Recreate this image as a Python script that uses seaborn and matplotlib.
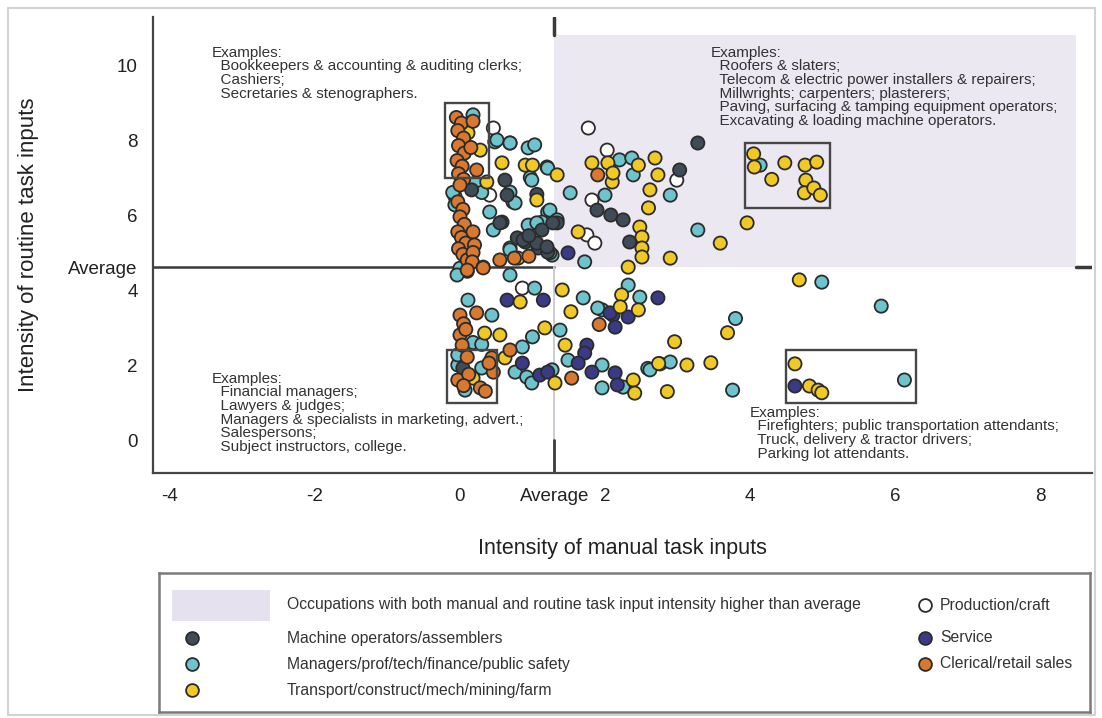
import matplotlib
matplotlib.use("Agg")
import matplotlib.pyplot as plt
from matplotlib.patches import Rectangle
import numpy as np
import pandas as pd
import seaborn as sns

# ---------------------------------------------------------------------------
# Occupation groups
# ---------------------------------------------------------------------------
groups = [
    "Production/craft",
    "Machine operators/assemblers",
    "Managers/prof/tech/finance/public safety",
    "Transport/construct/mech/mining/farm",
    "Service",
    "Clerical/retail sales",
]
group_colors = ["#FFFFFF", "#3F4C57", "#6EC4CC", "#F1C925", "#3B3A86", "#D8792F"]

# Manual (x) and routine (y) task-input intensity, one pair of lists per group
prod_manual = [0.46, 0.69, 1.77, 2.03, 1.82, 1.75, 1.86, 0.41, -0.07, 2.99, 0.86]
prod_routine = [8.32, 7.92, 8.32, 7.73, 6.40, 5.47, 5.25, 6.53, 6.50, 6.93, 4.05]

mach_manual = [0.62, 0.65, 1.06, 0.58, 1.34, 0.79, 0.90, 1.08, 1.21, 1.89, 2.08,
               2.25, 2.34, 3.03, 3.28, 0.04, 0.55, 0.87, 1.13, 1.28, 1.06, 1.20,
               0.16, 0.95]
mach_routine = [6.93, 6.53, 6.55, 5.81, 5.79, 5.39, 5.28, 5.12, 5.01, 6.13, 6.00,
                5.87, 5.28, 7.20, 7.92, 1.92, 5.79, 5.33, 5.60, 5.79, 5.25, 5.15,
                6.67, 5.45]

mgr_manual = [0.18, 0.48, 0.94, 1.03, 1.20, 0.97, 0.21, 0.30, 0.73, 1.52, 2.00,
              0.41, 0.46, 1.21, 1.27, 1.13, 1.00, 1.00, 0.97, 0.69, 1.27, 1.72,
              0.00, 0.10, -0.10, -0.07, 2.20, 2.37, 2.39, 2.90, 3.28, 4.14, 4.99,
              5.81, 3.80, 2.76, 2.59, 3.76, 6.13, 2.32, 2.48, 1.96, 1.96, 2.25,
              1.96, 2.62, 2.90, -0.04, 0.69, 1.03, 0.11, 0.44, 0.18, 0.30, -0.03,
              0.86, 1.00, 1.38, 1.49, 0.76, 0.92, 0.99, 1.27, 1.70, 1.90, -0.03,
              0.07, 0.30, 0.51, 0.69, 0.99, 1.21, 0.69, 0.76, 1.24, 0.94, 1.06,
              1.34, 0.69, 0.99, 1.24]
mgr_routine = [8.67, 7.95, 7.79, 7.87, 7.28, 7.00, 6.85, 6.60, 6.35, 6.59, 6.53,
               6.08, 5.60, 6.08, 5.87, 5.81, 5.73, 5.47, 5.25, 5.12, 4.93, 4.75,
               4.58, 4.50, 6.60, 6.27, 7.47, 7.52, 7.07, 6.53, 5.60, 7.33, 4.21,
               3.57, 3.24, 2.03, 1.91, 1.33, 1.60, 4.13, 3.81, 3.47, 2.00, 1.41,
               1.39, 1.87, 2.08, 4.40, 4.40, 4.05, 3.73, 3.33, 2.60, 2.55, 2.00,
               2.48, 2.75, 2.93, 2.13, 1.81, 1.68, 1.52, 1.87, 3.79, 3.52, 2.27,
               1.33, 1.92, 8.00, 7.92, 6.93, 7.25, 6.61, 6.32, 6.13, 5.73, 5.79,
               5.87, 5.07, 5.20, 4.99]

trans_manual = [0.11, 0.28, 0.58, 0.90, 1.00, 1.34, 0.37, 1.06, 1.82, 2.04, 2.10,
                0.80, 1.63, 2.11, 2.46, 2.69, 2.73, 2.62, 2.60, 2.48, 2.51, 2.51,
                2.51, 3.59, 3.96, 2.90, 2.32, 4.05, 4.06, 4.30, 4.48, 4.76, 4.92,
                4.77, 4.75, 4.88, 4.97, 4.68, 3.69, 2.96, 3.46, 3.13, 2.74, 2.86,
                4.62, 4.82, 4.94, 4.99, 2.23, 2.21, 2.46, 2.39, 2.41, 1.41, 0.83,
                0.34, 0.55, 0.62, 1.17, 1.45, 1.31, 0.18, 1.53]
trans_routine = [8.19, 7.73, 7.39, 7.33, 7.33, 7.07, 6.88, 6.40, 7.39, 7.39, 6.88,
                 4.85, 5.55, 7.12, 7.33, 7.52, 7.07, 6.67, 6.19, 5.68, 5.41, 5.12,
                 4.88, 5.25, 5.79, 4.85, 4.61, 7.63, 7.28, 6.95, 7.39, 7.33, 7.41,
                 6.93, 6.59, 6.72, 6.53, 4.27, 2.86, 2.62, 2.06, 2.00, 2.04, 1.29,
                 2.03, 1.44, 1.33, 1.26, 3.87, 3.55, 3.47, 1.60, 1.25, 4.00, 3.68,
                 2.85, 2.80, 2.19, 2.99, 2.53, 1.52, 1.65, 3.42]

serv_manual = [1.49, 2.73, 2.32, 2.11, 2.14, 2.14, 0.65, 1.15, 1.75, 1.72, 0.86,
               1.10, 1.21, 1.63, 1.82, 2.07, 4.62, 2.17]
serv_routine = [4.99, 3.79, 3.28, 3.33, 3.01, 1.79, 3.73, 3.73, 2.53, 2.32, 2.05,
                1.73, 1.81, 2.05, 1.81, 3.39, 1.44, 1.47]

cler_manual = [-0.05, 0.02, -0.03, 0.05, -0.02, 0.06, -0.04, 0.03, -0.02, 0.05,
               0.00, -0.03, 0.04, 0.00, 0.06, -0.03, 0.02, 0.08, -0.02, 0.04,
               0.10, 0.18, 0.15, 0.23, 0.18, 0.20, 0.18, 0.17, 0.32, 0.55, 0.75,
               0.95, 1.90, 0.10, 0.32, 0.00, 0.23, 0.00, 0.03, 0.10, 0.44, 0.69,
               -0.03, 0.28, 0.46, 0.40, 1.54, 1.92, 0.05, 0.08, 0.12, 0.35, 0.05]
cler_routine = [8.60, 8.45, 8.25, 8.05, 7.85, 7.65, 7.45, 7.30, 7.10, 6.95, 6.80,
                6.35, 6.15, 5.95, 5.75, 5.55, 5.40, 5.25, 5.10, 4.95, 4.80, 8.50,
                7.80, 7.20, 5.55, 5.20, 5.00, 4.75, 4.61, 4.80, 4.85, 4.90, 7.07,
                4.53, 4.59, 3.33, 3.39, 2.80, 2.53, 2.21, 2.19, 2.40, 1.60, 1.39,
                1.81, 2.05, 1.65, 3.08, 3.10, 2.95, 1.75, 1.30, 1.45]

# Reference levels (sample averages) and shaded high/high quadrant
avg_manual = 1.30
avg_routine = 4.61
x_ticks = [-4, -2, 0, 2, 4, 6, 8]
y_ticks = [0, 2, 4, 6, 8, 10]

# ---------------------------------------------------------------------------
frames = []
for name, xs, ys in [
    (groups[0], prod_manual, prod_routine),
    (groups[2], mgr_manual, mgr_routine),
    (groups[1], mach_manual, mach_routine),
    (groups[4], serv_manual, serv_routine),
    (groups[3], trans_manual, trans_routine),
    (groups[5], cler_manual, cler_routine),
]:
    frames.append(pd.DataFrame({"manual": xs, "routine": ys, "group": name}))
df = pd.concat(frames, ignore_index=True)
palette = dict(zip(groups, group_colors))

sns.set_theme(style="white")
plt.rcParams["font.family"] = ["Liberation Sans", "DejaVu Sans"]

W, H = 1102, 718
fig = plt.figure(figsize=(W / 100, H / 100), dpi=100)
fig.patch.set_facecolor("white")

x0, x1 = -4.234, 8.717
y0, y1 = -0.88, 11.28
ax = fig.add_axes([153 / W, 1 - 473 / H, (1092 - 153) / W, (473 - 17) / H])
ax.set_xlim(x0, x1)
ax.set_ylim(y0, y1)
ax.set_facecolor("white")

# shaded quadrant: both manual and routine intensity above average
shade = "#ECE8F2"
ax.add_patch(Rectangle((avg_manual, avg_routine), 8.5 - avg_manual, 10.8 - avg_routine,
                       facecolor=shade, edgecolor="none", zorder=0))

# average reference lines
dark = "#3a3a3a"
ax.plot([x0, avg_manual], [avg_routine, avg_routine], color=dark, lw=1.8, zorder=1)
ax.plot([8.5, x1], [avg_routine, avg_routine], color=dark, lw=2.5, zorder=1)
ax.plot([avg_manual, avg_manual], [0.0, avg_routine], color="#cdcbd6", lw=1.4, zorder=1)
ax.plot([avg_manual, avg_manual], [y0, 0.0], color=dark, lw=2.0, zorder=1)
ax.plot([avg_manual, avg_manual], [10.8, y1], color=dark, lw=2.5, zorder=1)

sns.scatterplot(data=df, x="manual", y="routine", hue="group", palette=palette,
                hue_order=groups, s=90, edgecolor="#2b2b2b", linewidth=1.3,
                legend=False, ax=ax, zorder=3)

# example boxes
box_kw = dict(fill=False, edgecolor="#474747", lw=1.7, zorder=4)
ax.add_patch(Rectangle((-0.20, 7.00), 0.60, 2.00, **box_kw))
ax.add_patch(Rectangle((-0.18, 1.00), 0.69, 1.40, **box_kw))
ax.add_patch(Rectangle((3.93, 6.19), 1.17, 1.74, **box_kw))
ax.add_patch(Rectangle((4.49, 1.00), 1.80, 1.40, **box_kw))

note_kw = dict(fontsize=11.0, color="#333333", va="top", ha="left",
               linespacing=0.97, zorder=5)
ax.text(-3.42, 10.52,
        "Examples:\n  Bookkeepers & accounting & auditing clerks;\n  Cashiers;\n"
        "  Secretaries & stenographers.", **note_kw)
ax.text(3.46, 10.52,
        "Examples:\n  Roofers & slaters;\n  Telecom & electric power installers & repairers;\n"
        "  Millwrights; carpenters; plasterers;\n"
        "  Paving, surfacing & tamping equipment operators;\n"
        "  Excavating & loading machine operators.", **note_kw)
ax.text(-3.42, 1.82,
        "Examples:\n  Financial managers;\n  Lawyers & judges;\n"
        "  Managers & specialists in marketing, advert.;\n  Salespersons;\n"
        "  Subject instructors, college.", **note_kw)
ax.text(3.99, 0.92,
        "Examples:\n  Firefighters; public transportation attendants;\n"
        "  Truck, delivery & tractor drivers;\n  Parking lot attendants.", **note_kw)

# axes styling
for side in ["top", "right"]:
    ax.spines[side].set_visible(False)
for side in ["left", "bottom"]:
    ax.spines[side].set_color("#444444")
    ax.spines[side].set_linewidth(1.6)

ax.set_xticks(x_ticks + [avg_manual])
ax.set_xticklabels([str(v) for v in x_ticks] + ["Average"])
ax.set_yticks(y_ticks + [avg_routine])
ax.set_yticklabels([str(v) for v in y_ticks] + ["Average"])
ax.tick_params(axis="both", direction="out", length=7, width=1.3, color="#444444",
               labelsize=13.5, labelcolor="#222222", pad=4)
ax.set_xlabel("Intensity of manual task inputs", fontsize=15.5, color="#222222")
ax.set_ylabel("Intensity of routine task inputs", fontsize=16, color="#222222")
ax.xaxis.set_label_coords(0.50, -0.143)
ax.yaxis.set_label_coords(-0.121, 0.50)

# ---------------------------------------------------------------------------
# legend panel
lx0, lx1, ly0, ly1 = 159, 1090, 573, 712
lax = fig.add_axes([lx0 / W, 1 - ly1 / H, (lx1 - lx0) / W, (ly1 - ly0) / H])
lax.set_xlim(lx0, lx1)
lax.set_ylim(ly1, ly0)
lax.set_xticks([])
lax.set_yticks([])
lax.set_facecolor("white")
for sp in lax.spines.values():
    sp.set_color("#7a7a7a")
    sp.set_linewidth(1.8)

leg_txt = dict(fontsize=11.3, color="#333333", va="center", ha="left")
lax.add_patch(Rectangle((172, 590), 98, 31, facecolor="#E6E1EE", edgecolor="none"))
lax.text(287, 605, "Occupations with both manual and routine task input intensity "
         "higher than average", **leg_txt)
left_items = [(groups[1], 638), (groups[2], 664), (groups[3], 690)]
right_items = [(groups[0], 605), (groups[4], 638), (groups[5], 664)]
for name, yy in left_items:
    lax.scatter([192], [yy], s=85, color=palette[name], edgecolor="#2b2b2b", lw=1.3)
    lax.text(287, yy, name, **leg_txt)
for name, yy in right_items:
    lax.scatter([925], [yy], s=85, color=palette[name], edgecolor="#2b2b2b", lw=1.3)
    lax.text(940, yy, name, **leg_txt)

# light outer frame
fig.add_artist(Rectangle((8 / W, 3 / H), (1095 - 8) / W, (710 - 3) / H,
                         transform=fig.transFigure, fill=False,
                         edgecolor="#d2d2d2", lw=1.5))

fig.savefig("out.png", dpi=100, facecolor="white")
